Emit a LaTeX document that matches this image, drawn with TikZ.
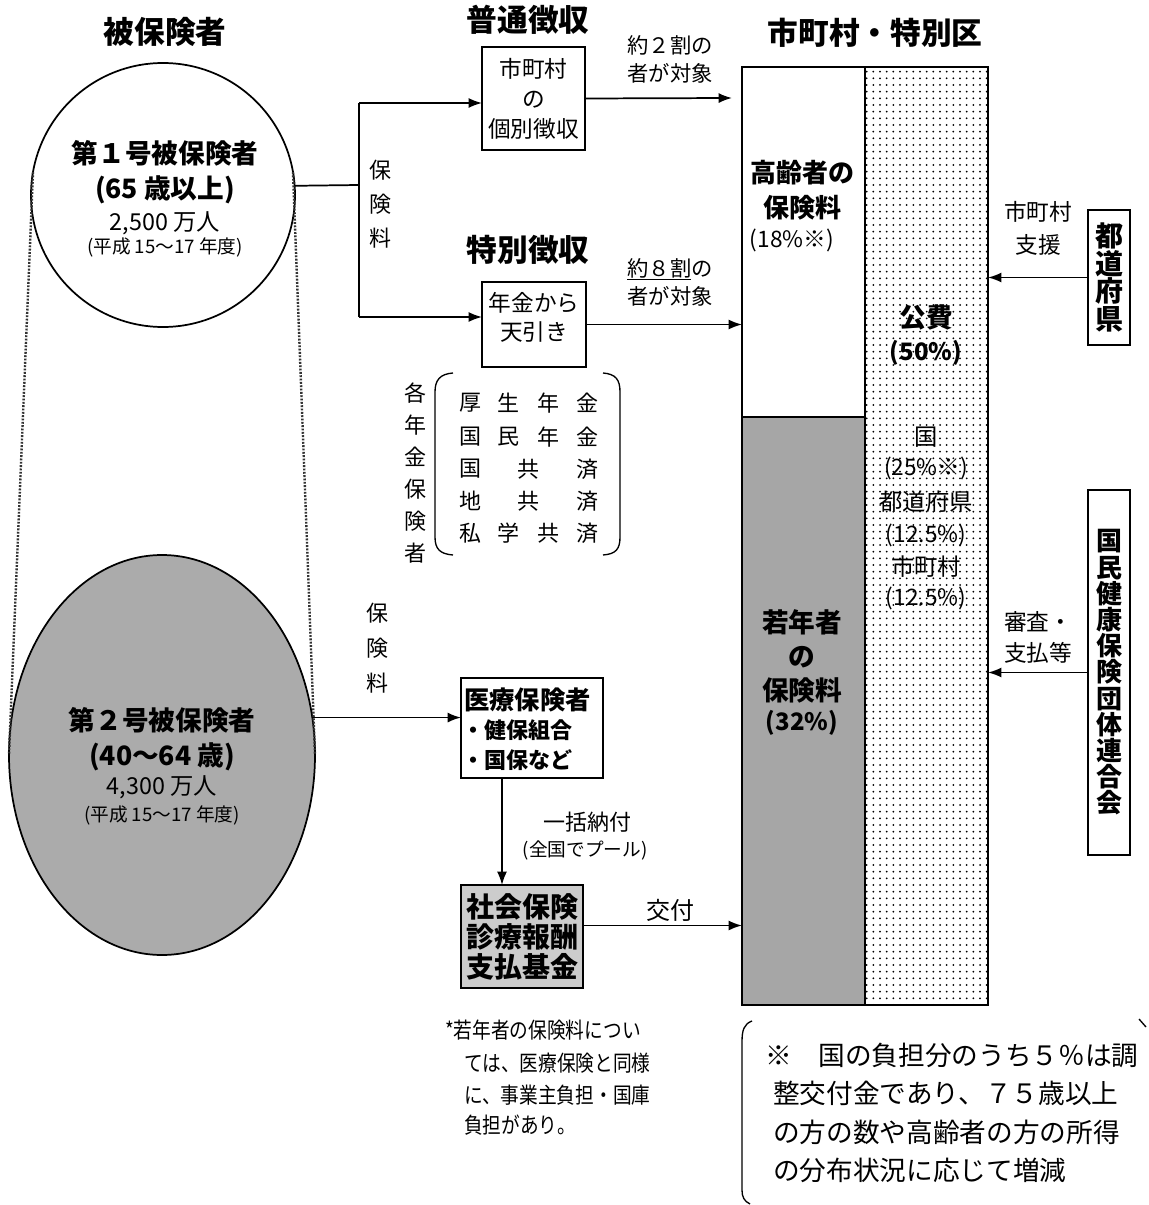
\documentclass[tikz,border=0pt]{standalone}
\usepackage{fontspec}
\usepackage{graphicx}
\setmainfont{Noto Sans CJK JP}
\usetikzlibrary{shapes.geometric,arrows.meta,patterns.meta}
\newcommand\fsz[2]{\fontsize{#1}{#2}\selectfont}
\tikzset{
  every node/.style={inner sep=0pt, outer sep=0pt},
  box/.style={draw, line width=1.3pt, rectangle, inner sep=0pt, align=center},
  barbox/.style={draw, line width=1pt, rectangle, inner sep=0pt},
  arr/.style={line width=1.3pt, -{Latex[length=10pt,width=7.5pt]}},
  ln/.style={line width=1.3pt},
  thinln/.style={line width=1pt},
  dotline/.style={line width=1.8pt, dash pattern=on 1.4pt off 1.1pt},
  ttl/.style={font=\fsz{23pt}{27pt}\bfseries},
  lbl/.style={font=\fsz{16pt}{21pt}, align=center},
  vlbl/.style={font=\fsz{16.5pt}{25.5pt}, align=center},
  barfill/.style={fill=black!35},
  dotfill/.style={pattern={Dots[radius=0.75pt, distance=5pt]}},
}
\begin{document}
\begin{tikzpicture}[x=0.75pt, y=-0.75pt]
\useasboundingbox[fill=white] (0,0) rectangle (1148,1205);

% titles
\node[ttl] (t1) at (165,32) {被保険者};
\node[ttl] (t2) at (528,20) {普通徴収};
\node[ttl] (t3) at (528,250) {特別徴収};
\node[ttl] (t4) at (875,33) {市町村・特別区};

% first insured circle and second insured ellipse
\node[ellipse, fill=black!33, draw, line width=1.3pt, minimum width=229.5pt, minimum height=300pt] (e2) at (162,755) {};
\node[circle, draw, fill=white, line width=1.3pt, minimum size=198pt] (c1) at (163,195) {};
\draw[dotline, black!80] (c1.170) -- (e2.west);
\draw[dotline, black!80] (c1.10) -- (e2.east);

\node[font=\fsz{20pt}{24pt}\bfseries] (c1a) at (165,153) {第１号被保険者};
\node[font=\fsz{20pt}{24pt}\bfseries] (c1b) at (165,190) {(65 歳以上)};
\node[font=\fsz{17.5pt}{21pt}] (c1c) at (165,223) {2,500 万人};
\node[font=\fsz{14pt}{17pt}] (c1d) at (165,247) {(平成 15〜17 年度)};

\node[font=\fsz{20pt}{24pt}\bfseries] (e2a) at (162,720) {第２号被保険者};
\node[font=\fsz{20pt}{24pt}\bfseries] (e2b) at (162,757) {(40〜64 歳)};
\node[font=\fsz{17.5pt}{21pt}] (e2c) at (162,787) {4,300 万人};
\node[font=\fsz{14pt}{17pt}] (e2d) at (162,815) {(平成 15〜17 年度)};

% collection boxes
\node[box, minimum width=77.25pt, minimum height=77.25pt, font=\fsz{17pt}{22.5pt}] (futsu) at (533.5,98.5) {市町村\\の\\個別徴収};
\node[box, minimum width=78pt, minimum height=63.75pt] (toku) at (534,324.5) {};
\node[font=\fsz{17pt}{21.75pt}, align=center] (tokut) at (534,317.5) {年金から\\天引き};

% premium split
\coordinate (j1) at (359,185);
\coordinate (j1t) at (359,103);
\coordinate (j1b) at (359,317);
\draw[ln] (c1.4) -- (j1);
\draw[ln] (j1t) -- (j1b);
\draw[arr] (j1t) -- (j1t -| futsu.west);
\draw[arr] (j1b) -- (j1b -| toku.west);
\node[vlbl] (hk1) at (380,204) {保\\険\\料};

% bar
\node[barbox, minimum width=92.25pt, minimum height=262.5pt] (barLT) at (803.5,242) {};
\node[barbox, barfill, minimum width=92.25pt, minimum height=441pt] (barLB) at (803.5,711) {};
\node[barbox, dotfill, minimum width=92.25pt, minimum height=703.5pt] (barR) at (926.5,536) {};

% arrows into bar
\coordinate (a1end) at (732,98);
\draw[arr] (futsu.east) -- (a1end);
\draw[arr] (toku.east) -- (toku.east -| barLT.west);
\node[lbl] (l2wari) at (670,59) {約２割の\\者が対象};
\node[lbl] (l8wari) at (670,282) {\underline{約８割}の\\者が対象};

% pension insurers
\node[vlbl, font=\fsz{16.5pt}{24pt}] (kaku) at (415,473) {各\\年\\金\\保\\険\\者};
\draw[thinln] (453,373) .. controls (440,374) and (435,380) .. (435,392) -- (435,537) .. controls (435,549) and (440,554) .. (453,555);
\draw[thinln] (603,373) .. controls (616,374) and (620,380) .. (620,392) -- (620,537) .. controls (620,549) and (616,554) .. (603,555);
\begin{scope}[every node/.style={font=\fsz{16.5pt}{20pt}, inner sep=0pt}]
\node (g11) at (470,403) {厚}; \node (g12) at (508,403) {生}; \node (g13) at (548,403) {年}; \node (g14) at (587,403) {金};
\node (g21) at (470,437) {国}; \node (g22) at (508,437) {民}; \node (g23) at (548,437) {年}; \node (g24) at (587,437) {金};
\node (g31) at (470,469) {国}; \node (g32) at (528,469) {共}; \node (g34) at (587,469) {済};
\node (g41) at (470,501) {地}; \node (g42) at (528,501) {共}; \node (g44) at (587,501) {済};
\node (g51) at (470,533) {私}; \node (g52) at (508,533) {学}; \node (g53) at (548,533) {共}; \node (g54) at (587,533) {済};
\end{scope}

% second insured path
\node[box, minimum width=106.5pt, minimum height=75pt] (iryo) at (532,728) {};
\node[anchor=west, font=\fsz{19pt}{22pt}\bfseries] (iryo1) at (464,700) {医療保険者};
\node[anchor=west, font=\fsz{16.5pt}{20pt}\bfseries] (iryo2) at (462,730) {・健保組合};
\node[anchor=west, font=\fsz{16.5pt}{20pt}\bfseries] (iryo3) at (462,760) {・国保など};
\draw[arr] (e2.14) -- (e2.14 -| iryo.west);
\node[vlbl, font=\fsz{16.5pt}{26pt}] (hk2) at (377,648) {保\\険\\料};

\node[box, fill=black!20, minimum width=91.5pt, minimum height=77.25pt, font=\fsz{21pt}{22.5pt}\bfseries] (shakai) at (522,936.5) {社会保険\\診療報酬\\支払基金};
\coordinate (v1) at (502,778);
\draw[arr] (v1) -- (v1 |- shakai.north);
\node[font=\fsz{16.5pt}{20pt}] (ikkatsu) at (587,822) {一括納付};
\node[font=\fsz{14pt}{17pt}] (pool) at (585,850) {(全国でプール)};
\coordinate (k1) at ([yshift=8.25pt]shakai.east);
\draw[arr] (k1) -- (k1 -| barLB.west);
\node[font=\fsz{18pt}{21pt}] (koufu) at (670,910) {交付};

% bar texts
\node[font=\fsz{19.5pt}{23pt}\bfseries] (b1) at (802,173) {高齢者の};
\node[font=\fsz{19.5pt}{23pt}\bfseries] (b2) at (802,208) {保険料};
\node[font=\fsz{17pt}{20pt}] (b3) at (792,240) {(18\%※)};
\node[font=\fsz{20pt}{23pt}\bfseries] (r1) at (926,317) {公費};
\node[font=\fsz{18pt}{21pt}\bfseries] (r2) at (926,353) {(50\%)};
\node[font=\fsz{17.5pt}{20pt}] (r3) at (926,437) {国};
\node[font=\fsz{17pt}{20pt}] (r4) at (926,468) {(25\%※)};
\node[font=\fsz{17.5pt}{20pt}] (r5) at (926,502) {都道府県};
\node[font=\fsz{17pt}{20pt}] (r6) at (926,535) {(12.5\%)};
\node[font=\fsz{17.5pt}{20pt}] (r7) at (926,567) {市町村};
\node[font=\fsz{17pt}{20pt}] (r8) at (926,598) {(12.5\%)};
\node[font=\fsz{20pt}{23pt}\bfseries] (y1) at (802,622) {若年者};
\node[font=\fsz{20pt}{23pt}\bfseries] (y2) at (802,657) {の};
\node[font=\fsz{20pt}{23pt}\bfseries] (y3) at (802,690) {保険料};
\node[font=\fsz{18pt}{21pt}\bfseries] (y4) at (802,723) {(32\%)};

% right side boxes
\node[box, minimum width=31.5pt, minimum height=101.25pt, font=\fsz{21pt}{20.8pt}\bfseries] (pref) at (1109,277.5) {都\\道\\府\\県};
\node[box, minimum width=31.5pt, minimum height=273.75pt, font=\fsz{19.5pt}{19.65pt}\bfseries] (kokuho) at (1109,672.5) {国\\民\\健\\康\\保\\険\\団\\体\\連\\合\\会};
\draw[arr] (pref.west) -- (pref.west -| barR.east);
\draw[arr] (kokuho.west) -- (kokuho.west -| barR.east);
\node[lbl, font=\fsz{17pt}{24.75pt}] (shien) at (1038,228) {市町村\\支援};
\node[lbl, font=\fsz{17pt}{23.25pt}] (shinsa) at (1038,637) {審査・\\支払等};

% footnote
\node[anchor=west, font=\fsz{16.5pt}{20pt}] (fn1) at (445,1030) {\scalebox{0.85}[1]{*若年者の保険料につい}};
\node[anchor=west, font=\fsz{16.5pt}{20pt}] (fn2) at (464,1063) {\scalebox{0.85}[1]{ては、医療保険と同様}};
\node[anchor=west, font=\fsz{16.5pt}{20pt}] (fn3) at (464,1095) {\scalebox{0.85}[1]{に、事業主負担・国庫}};
\node[anchor=west, font=\fsz{16.5pt}{20pt}] (fn4) at (464,1125) {\scalebox{0.85}[1]{負担があり。}};

% note
\draw[thinln] (752,1021) .. controls (744,1024) and (742,1030) .. (742,1042) -- (742,1190) .. controls (742,1197) and (744,1201) .. (750,1204);
\draw[thinln] (1139,1019) -- (1146,1027);
\node[anchor=west, font=\fsz{20pt}{24pt}] (n1) at (765,1055) {※　国の負担分のうち５％は調};
\node[anchor=west, font=\fsz{20pt}{24pt}] (n2) at (773,1093) {整交付金であり、７５歳以上};
\node[anchor=west, font=\fsz{20pt}{24pt}] (n3) at (773,1132) {の方の数や高齢者の方の所得};
\node[anchor=west, font=\fsz{20pt}{24pt}] (n4) at (773,1170) {の分布状況に応じて増減};
\end{tikzpicture}
\end{document}
